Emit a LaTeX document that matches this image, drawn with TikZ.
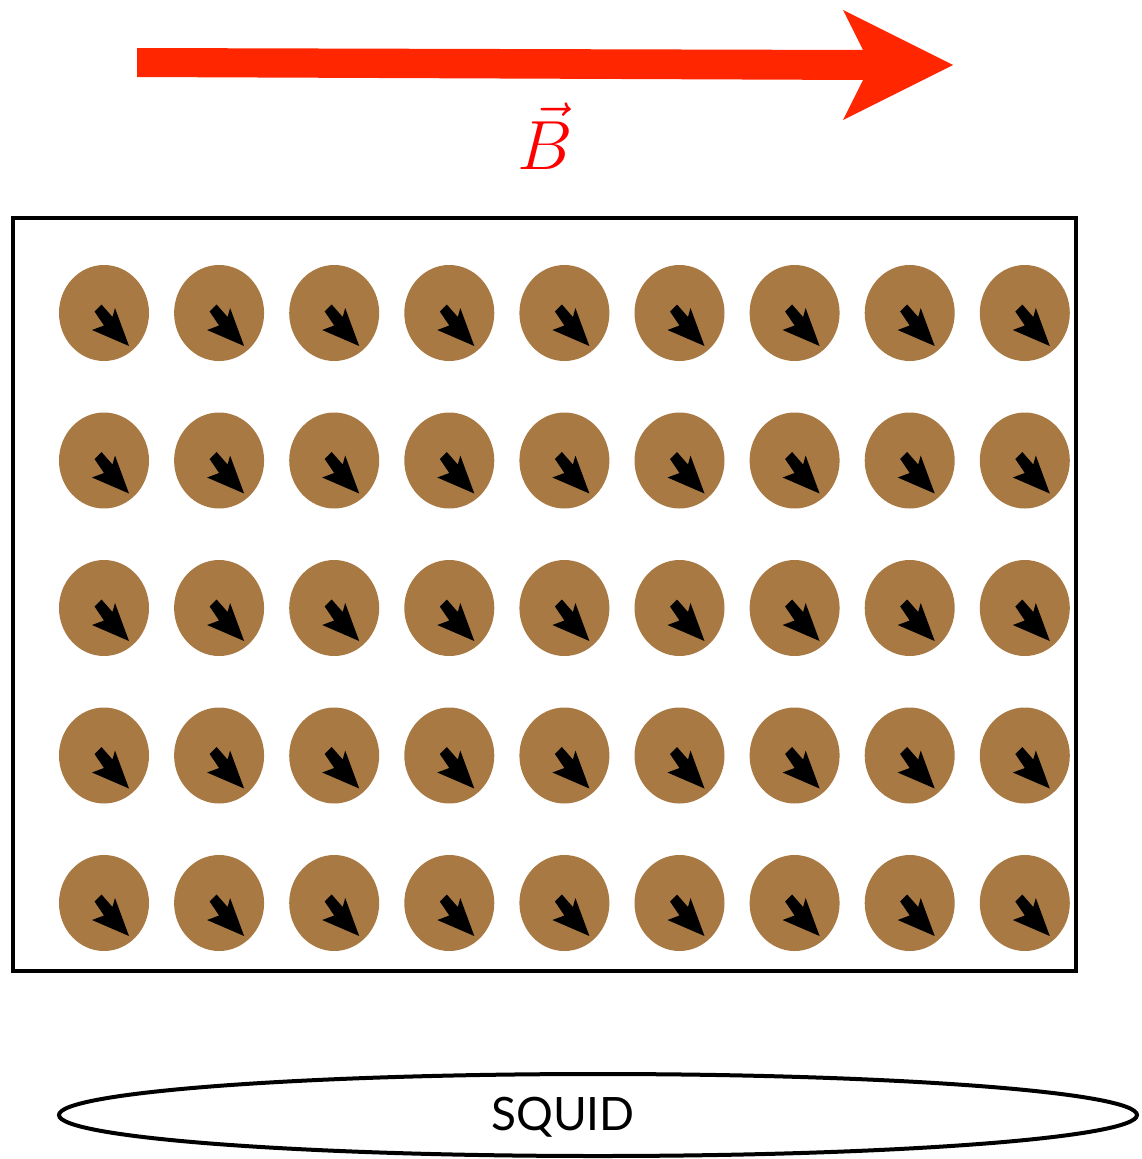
\documentclass[tikz,border=0pt]{standalone}
\usepackage{fontspec}
\newfontfamily\squidfont{Lato}
\usetikzlibrary{shapes.geometric}
\definecolor{spinbrown}{RGB}{169,121,68}
\definecolor{fieldred}{RGB}{255,38,0}
\tikzset{
  grain/.style={ellipse, fill=spinbrown, inner sep=0pt, minimum width=90pt, minimum height=96pt},
  frame/.style={draw=black, line width=4pt},
}
\begin{document}
\begin{tikzpicture}[x=1pt,y=-1pt]
\useasboundingbox (0,0) rectangle (1141,1159);
% field arrow
\fill[fieldred] (137,48) -- (863,50) -- (843,10) -- (953,65) -- (843,120) -- (863,80) -- (137,77) -- cycle;
\node[text=red, font=\Huge, scale=2.8, inner sep=0pt] (blabel) at (545,136) {$\vec{B}$};
% sample box
\draw[frame] (13,218) rectangle (1076,971);
% grains
\foreach \i in {0,...,8}{
  \foreach \j in {0,...,4}{
    \node[grain] (g-\i-\j) at ({104+115.1*\i},{313+147.5*\j}) {};
    \begin{scope}[shift={(g-\i-\j.center)}]
      \fill (-2.5,-8.5) -- (-9.5,-1.5) -- (0,12.5) -- (-12,17) -- (25,33) -- (11,-5) -- (8.5,4) -- cycle;
    \end{scope}
  }
}
% SQUID
\node[ellipse, draw, line width=4pt, minimum width=1078pt, minimum height=82pt, inner sep=0pt] (squid) at (598,1115) {};
\node[font=\squidfont\fontsize{46}{50}\selectfont] (squidlabel) at (563,1117) {SQUID};
\end{tikzpicture}
\end{document}
